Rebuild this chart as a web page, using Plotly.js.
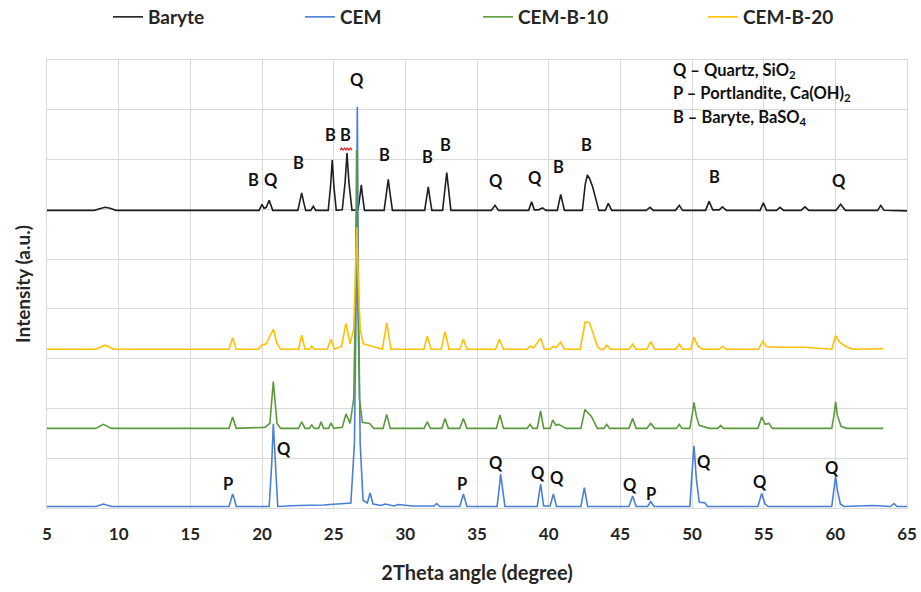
<!DOCTYPE html>
<html>
<head>
<meta charset="utf-8">
<script src="https://cdn.plot.ly/plotly-3.0.1.min.js"></script>
<style>html,body{margin:0;padding:0;background:#fff;}#chart{width:921px;height:592px;}</style>
</head>
<body>
<div id="chart"></div>
<script>
// ---- Data (vertical offsets as in the original stacked plot) ----
const seriesNames = ["Baryte", "CEM", "CEM-B-10", "CEM-B-20"];
const seriesColors = ["#1f1f1f", "#4a7fd6", "#5b9a3c", "#ffc000"];

const baryteX = [5, 8.3, 8.8, 9.05, 9.4, 9.8, 19.8, 20.0, 20.15, 20.3, 20.5, 20.75, 22.5, 22.65, 22.77, 22.9, 23.05, 23.4, 23.58, 23.75,
  24.62, 24.78, 24.9, 25.02, 25.18, 25.6, 25.8, 25.93, 26.06, 26.28, 26.7, 26.85, 26.93, 27.0, 27.15, 28.52, 28.7, 28.81, 28.92, 29.1,
  31.35, 31.5, 31.6, 31.7, 31.85, 32.6, 32.78, 32.89, 33.0, 33.18, 36.0, 36.26, 36.5, 38.6, 38.81, 39.0, 39.3, 39.58, 39.8,
  40.6, 40.84, 41.1, 42.35, 42.55, 42.7, 42.85, 43.07, 43.3, 43.5, 43.95, 44.16, 44.4, 46.8, 47.07, 47.3, 48.85, 49.11, 49.35,
  50.95, 51.19, 51.45, 51.9, 52.12, 52.4, 54.75, 54.98, 55.2, 55.9, 56.14, 56.4, 57.6, 57.88, 58.15, 60.05, 60.37, 60.7,
  62.95, 63.17, 63.4, 65];
const baryteY = [5.98, 5.98, 6.02, 6.04, 6.02, 5.98, 5.98, 6.10, 6.02, 6.04, 6.18, 5.98, 5.98, 6.15, 6.33, 6.15, 5.98, 5.98, 6.06, 5.98,
  5.98, 6.45, 6.99, 6.45, 5.98, 5.99, 6.55, 7.13, 6.55, 5.98, 5.99, 6.3, 6.49, 6.3, 5.98, 5.98, 6.35, 6.60, 6.35, 5.98,
  5.98, 6.25, 6.45, 6.25, 5.98, 5.98, 6.45, 6.74, 6.45, 5.98, 5.98, 6.08, 5.98, 5.98, 6.15, 5.99, 5.99, 6.03, 5.98,
  5.98, 6.30, 5.98, 5.98, 6.5, 6.69, 6.62, 6.45, 6.2, 5.98, 5.98, 6.12, 5.98, 5.98, 6.04, 5.98, 5.98, 6.08, 5.98,
  5.98, 6.16, 5.99, 5.99, 6.05, 5.98, 5.98, 6.13, 5.98, 5.98, 6.04, 5.98, 5.98, 6.05, 5.98, 5.98, 6.10, 5.98,
  5.98, 6.08, 5.98, 5.97];

const cemX = [5, 8.4, 8.93, 9.5, 17.7, 17.82, 17.95, 18.08, 18.2, 20.5, 20.68, 20.79, 20.92, 21.1, 22.5, 23.5, 24.3, 26.2, 26.45, 26.56,
  26.65, 26.74, 26.85, 27.05, 27.35, 27.54, 27.75, 28.3, 28.6, 29.2, 29.5, 30.5, 32.0, 32.19, 32.4, 33.8, 34.05, 34.3, 36.4, 36.55,
  36.65, 36.78, 36.95, 39.2, 39.44, 39.65, 40.1, 40.33, 40.55, 42.25, 42.49, 42.72, 45.6, 45.86, 46.1, 46.9, 47.12, 47.35, 49.85,
  50.0, 50.14, 50.3, 50.5, 50.9, 51.1, 54.6, 54.86, 55.1, 55.3, 59.75, 59.9, 60.02, 60.15, 60.35, 60.6, 62.6, 63.85, 64.09, 64.3, 65];
const cemY = [0.03, 0.03, 0.08, 0.03, 0.03, 0.17, 0.28, 0.17, 0.03, 0.03, 0.9, 1.69, 0.9, 0.03, 0.05, 0.05, 0.06, 0.1, 1.3, 4.0,
  8.06, 4.0, 1.3, 0.15, 0.1, 0.3, 0.08, 0.05, 0.08, 0.04, 0.07, 0.04, 0.04, 0.09, 0.03, 0.03, 0.28, 0.03, 0.03, 0.4,
  0.68, 0.4, 0.03, 0.03, 0.48, 0.04, 0.04, 0.28, 0.03, 0.03, 0.41, 0.03, 0.03, 0.24, 0.03, 0.03, 0.13, 0.03, 0.03,
  0.7, 1.25, 0.6, 0.12, 0.1, 0.03, 0.03, 0.29, 0.08, 0.03, 0.03, 0.35, 0.64, 0.35, 0.08, 0.03, 0.05, 0.03, 0.09, 0.03, 0.03];

const b10X = [5, 8.4, 8.93, 9.5, 17.7, 17.95, 18.2, 20.2, 20.55, 20.79, 21.05, 21.3, 22.55, 22.77, 23.0, 23.3, 23.47, 23.65, 23.95, 24.12,
  24.3, 24.65, 24.81, 25.0, 25.6, 25.86, 26.15, 26.4, 26.52, 26.6, 26.68, 26.8, 27.0, 27.5, 27.8, 28.45, 28.7, 28.95, 31.3, 31.53,
  31.75, 32.55, 32.77, 33.0, 33.8, 34.05, 34.3, 36.35, 36.6, 36.85, 38.5, 38.7, 38.9, 39.2, 39.44, 39.65, 40.1, 40.28, 40.5, 40.7,
  41.2, 42.25, 42.53, 42.98, 43.4, 43.85, 44.05, 44.25, 45.6, 45.86, 46.1, 46.85, 47.12, 47.4, 48.9, 49.11, 49.3, 49.85, 50.0, 50.14,
  50.3, 50.5, 51.2, 51.8, 52.0, 52.2, 54.6, 54.86, 55.1, 55.37, 55.6, 59.75, 59.9, 60.02, 60.15, 60.4, 60.8, 63.35];
const b10Y = [1.6, 1.6, 1.68, 1.6, 1.6, 1.83, 1.6, 1.62, 1.7, 2.54, 1.7, 1.6, 1.6, 1.73, 1.6, 1.6, 1.67, 1.6, 1.6, 1.73,
  1.6, 1.6, 1.71, 1.6, 1.62, 1.89, 1.7, 2.2, 4.2, 7.19, 4.2, 2.2, 1.72, 1.7, 1.6, 1.6, 1.88, 1.6, 1.6, 1.73,
  1.6, 1.6, 1.8, 1.6, 1.6, 1.8, 1.6, 1.6, 1.87, 1.6, 1.6, 1.68, 1.6, 1.6, 1.95, 1.6, 1.6, 1.77, 1.66, 1.68,
  1.6, 1.6, 1.98, 1.84, 1.6, 1.6, 1.68, 1.6, 1.6, 1.8, 1.6, 1.6, 1.7, 1.6, 1.6, 1.68, 1.6, 1.6, 1.85, 2.12,
  1.85, 1.66, 1.6, 1.6, 1.66, 1.6, 1.6, 1.83, 1.68, 1.7, 1.6, 1.6, 1.85, 2.13, 1.85, 1.64, 1.6, 1.6];

const b20X = [5, 8.4, 9.05, 9.7, 17.7, 17.95, 18.2, 19.75, 19.98, 20.3, 20.55, 20.79, 21.05, 21.3, 22.55, 22.77, 23.0, 23.3, 23.47, 23.65,
  24.55, 24.81, 25.05, 25.55, 25.86, 26.15, 26.4, 26.53, 26.62, 26.71, 26.85, 27.05, 27.4, 27.7, 28.4, 28.7, 29.0, 31.3, 31.53, 31.8,
  32.5, 32.77, 33.05, 33.8, 34.05, 34.3, 36.3, 36.56, 36.85, 38.5, 38.7, 38.95, 39.44, 39.7, 40.1, 40.3, 40.5, 40.84, 41.1, 42.2,
  42.4, 42.55, 42.85, 43.1, 43.4, 43.6, 43.85, 44.05, 44.3, 45.6, 45.86, 46.1, 46.85, 47.12, 47.4, 48.85, 49.11, 49.35, 49.9, 50.14,
  50.4, 50.7, 51.9, 52.12, 52.4, 54.65, 54.94, 55.2, 56.14, 57.9, 59.75, 60.02, 60.3, 60.7, 61.2, 63.35];
const b20Y = [3.19, 3.19, 3.27, 3.19, 3.19, 3.42, 3.19, 3.19, 3.27, 3.3, 3.45, 3.59, 3.3, 3.19, 3.19, 3.47, 3.19, 3.19, 3.25, 3.19,
  3.19, 3.39, 3.19, 3.25, 3.71, 3.3, 3.6, 4.6, 5.64, 4.6, 3.6, 3.3, 3.27, 3.24, 3.19, 3.72, 3.19, 3.19, 3.45, 3.19,
  3.19, 3.54, 3.19, 3.19, 3.39, 3.19, 3.19, 3.39, 3.19, 3.19, 3.25, 3.22, 3.41, 3.19, 3.19, 3.25, 3.22, 3.33, 3.19, 3.19,
  3.55, 3.74, 3.72, 3.5, 3.25, 3.19, 3.19, 3.27, 3.19, 3.19, 3.29, 3.19, 3.19, 3.34, 3.19, 3.19, 3.29, 3.19, 3.19, 3.43,
  3.26, 3.19, 3.19, 3.25, 3.19, 3.19, 3.35, 3.24, 3.23, 3.23, 3.19, 3.46, 3.33, 3.25, 3.19, 3.2];

// Peak labels
const labelText = ["B", "Q", "B", "B", "B", "Q", "B", "B", "B", "Q", "Q", "B", "B", "B", "Q",
  "P", "Q", "P", "Q", "Q", "Q", "Q", "P", "Q", "Q", "Q"];
const labelX = [19.44, 20.63, 22.58, 24.81, 25.86, 26.63, 28.58, 31.58, 32.77, 36.33, 39.05, 40.72, 42.67, 51.6, 60.26,
  17.63, 21.54, 33.95, 36.33, 39.26, 40.58, 45.67, 47.14, 50.84, 54.74, 59.77];
const labelY = [6.59, 6.59, 6.93, 7.49, 7.49, 8.59, 7.09, 7.05, 7.29, 6.57, 6.63, 6.85, 7.29, 6.65, 6.57,
  0.48, 1.18, 0.48, 0.90, 0.70, 0.60, 0.46, 0.28, 0.92, 0.52, 0.80];

// Phase key
const keyLines = ["Q – Quartz, SiO<sub>2</sub>", "P – Portlandite, Ca(OH)<sub>2</sub>", "B – Baryte, BaSO<sub>4</sub>"];

const xTitle = "2Theta angle (degree)";
const yTitle = "Intensity (a.u.)";

// ---- Chart ----
const FONT = 'Lato, "Open Sans", sans-serif';
const xs = [baryteX, cemX, b10X, b20X];
const ys = [baryteY, cemY, b10Y, b20Y];
const legendWidths = [147, 133, 180, 100];

const traces = seriesNames.map((n, i) => ({
  type: "scatter", mode: "lines", name: n, x: xs[i], y: ys[i],
  line: {color: seriesColors[i], width: 1.6},
  legendwidth: legendWidths[i], hoverinfo: "skip"
}));

const annotations = labelText.map((t, i) => ({
  text: t, x: labelX[i], y: labelY[i], xref: "x", yref: "y", showarrow: false,
  xanchor: "center", yanchor: "middle",
  font: {family: FONT, size: 16.5, color: "#111", weight: "bold"}
}));
const keyRows = [71, 94, 117];
keyLines.forEach((t, i) => annotations.push({
  text: t, xref: "paper", yref: "paper", x: (671 - 47) / 860, y: (508 - keyRows[i]) / 448,
  xanchor: "left", yanchor: "middle", showarrow: false, align: "left",
  font: {family: FONT, size: 16.5, color: "#111", weight: "bold"}
}));

// red spell-check squiggle under the second "B"
const sq = labelX[4], sqy = labelY[4] - 0.3;
let sqPath = "M" + (sq - 0.42) + "," + sqy;
for (let k = 1; k <= 8; k++) sqPath += " L" + (sq - 0.42 + k * 0.105) + "," + (sqy + (k % 2 ? 0.04 : 0));

const layout = {
  width: 921, height: 592,
  margin: {l: 47, r: 14, t: 60, b: 84, pad: 0, autoexpand: false},
  paper_bgcolor: "#fff", plot_bgcolor: "#fff",
  font: {family: FONT, color: "#262626"},
  showlegend: true,
  legend: {orientation: "h", x: (108 - 47) / 860, xanchor: "left", y: (508 - 17) / 448, yanchor: "middle",
    font: {family: FONT, size: 19, color: "#262626", weight: "bold"}, bgcolor: "rgba(0,0,0,0)", tracegroupgap: 0},
  xaxis: {range: [5, 65], tick0: 5, dtick: 5, showgrid: true, gridcolor: "#d9d9d9", gridwidth: 1,
    zeroline: false, showline: true, mirror: true, linecolor: "#d9d9d9", linewidth: 1, ticks: "",
    ticklabelstandoff: 11,
    tickfont: {family: FONT, size: 17, color: "#262626", weight: "bold"},
    title: {text: xTitle, standoff: 22, font: {family: FONT, size: 20, color: "#262626", weight: "bold"}}},
  yaxis: {range: [0, 9], tick0: 0, dtick: 1, showgrid: true, gridcolor: "#d9d9d9", gridwidth: 1,
    zeroline: false, showline: true, mirror: true, linecolor: "#d9d9d9", linewidth: 1, ticks: "",
    showticklabels: false,
    title: {text: yTitle, standoff: 10, font: {family: FONT, size: 19, color: "#262626", weight: "bold"}}},
  annotations: annotations,
  shapes: [{type: "path", xref: "x", yref: "y", path: sqPath, line: {color: "#e02020", width: 1.2}}]
};

Plotly.newPlot("chart", traces, layout, {staticPlot: true, displayModeBar: false});
</script>
</body>
</html>
